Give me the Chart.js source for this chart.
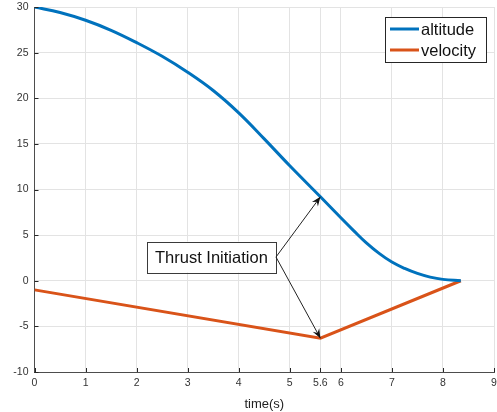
<!DOCTYPE html>
<html>
<head>
<meta charset="utf-8">
<script src="https://cdn.jsdelivr.net/npm/chart.js@4"></script>
<style>
  html, body { margin: 0; padding: 0; background: #fff; }
  .canvas { width: 497px; height: 412px; }
</style>
</head>
<body>
<div class="canvas"><canvas id="chart" width="497" height="412"></canvas></div>
<script>
// data
const altTime = [0, 0.5, 1, 1.5, 2, 2.5, 3, 3.5, 4, 4.5, 5, 5.6, 6, 6.25, 6.5, 6.75, 7, 7.25, 7.5, 7.75, 8, 8.35];
const altitude = [30, 29.4, 28.55, 27.45, 26.1, 24.6, 22.85, 20.85, 18.4, 15.55, 12.6, 9.2, 6.9, 5.5, 4.15, 3.0, 2.05, 1.35, 0.8, 0.4, 0.15, 0];
const velTime = [0, 5.6, 8.35];
const velocity = [-1, -6.3, 0];
const xTicks = [0, 1, 2, 3, 4, 5, 5.6, 6, 7, 8, 9];
const yTicks = [-10, -5, 0, 5, 10, 15, 20, 25, 30];

// annotation: box position in data units, arrows go to the thrust points
const noteText = "Thrust Initiation";
const noteBox = { x1: 2.2, x2: 4.73, y: 2.6 };
const noteTargets = [[5.6, 9.2], [5.6, -6.3]];

const FONT = "'Liberation Sans', Arial, Helvetica, sans-serif";

const toPoints = (xs, ys) => xs.map((x, i) => ({ x: x, y: ys[i] }));

// inward tick marks, matlab style
const tickPlugin = {
  id: "inwardTicks",
  afterDatasetsDraw(chart) {
    const { ctx, chartArea, scales } = chart;
    ctx.save();
    ctx.strokeStyle = "#262626";
    ctx.lineWidth = 1;
    ctx.beginPath();
    scales.x.ticks.forEach((t) => {
      const px = Math.round(scales.x.getPixelForValue(t.value)) + 0.5;
      ctx.moveTo(px, chartArea.bottom);
      ctx.lineTo(px, chartArea.bottom - 4);
    });
    scales.y.ticks.forEach((t) => {
      const py = Math.round(scales.y.getPixelForValue(t.value)) + 0.5;
      ctx.moveTo(chartArea.left, py);
      ctx.lineTo(chartArea.left + 4, py);
    });
    ctx.stroke();
    ctx.restore();
  },
};

// text box + arrows
const notePlugin = {
  id: "note",
  afterDatasetsDraw(chart) {
    const { ctx, scales } = chart;
    const x1 = scales.x.getPixelForValue(noteBox.x1);
    const x2 = scales.x.getPixelForValue(noteBox.x2);
    const cy = scales.y.getPixelForValue(noteBox.y);
    const h = 31;
    ctx.save();
    ctx.fillStyle = "#fff";
    ctx.fillRect(x1, cy - h / 2, x2 - x1, h);
    ctx.strokeStyle = "#3a3a3a";
    ctx.lineWidth = 1;
    ctx.strokeRect(Math.round(x1) + 0.5, Math.round(cy - h / 2) + 0.5, Math.round(x2 - x1), h);
    ctx.fillStyle = "#111";
    ctx.font = "16.5px " + FONT;
    ctx.textAlign = "center";
    ctx.textBaseline = "middle";
    ctx.fillText(noteText, (x1 + x2) / 2, cy + 1);

    noteTargets.forEach(([tx, ty]) => {
      const px = scales.x.getPixelForValue(tx);
      const py = scales.y.getPixelForValue(ty);
      ctx.strokeStyle = "#222";
      ctx.lineWidth = 1;
      ctx.beginPath();
      ctx.moveTo(x2, cy);
      ctx.lineTo(px, py);
      ctx.stroke();
      const ang = Math.atan2(py - cy, px - x2);
      const len = 10, wid = 0.38;
      ctx.fillStyle = "#111";
      ctx.beginPath();
      ctx.moveTo(px, py);
      ctx.lineTo(px - len * Math.cos(ang - wid), py - len * Math.sin(ang - wid));
      ctx.lineTo(px - len * 0.6 * Math.cos(ang), py - len * 0.6 * Math.sin(ang));
      ctx.lineTo(px - len * Math.cos(ang + wid), py - len * Math.sin(ang + wid));
      ctx.closePath();
      ctx.fill();
    });
    ctx.restore();
  },
};

// legend inside the top right corner
const legendPlugin = {
  id: "boxLegend",
  afterDraw(chart) {
    const { ctx } = chart;
    const left = 385, top = 17, w = 101, h = 45;
    ctx.save();
    ctx.fillStyle = "#fff";
    ctx.fillRect(left, top, w, h);
    ctx.strokeStyle = "#262626";
    ctx.lineWidth = 1;
    ctx.strokeRect(left + 0.5, top + 0.5, w, h);
    ctx.font = "16.5px " + FONT;
    ctx.textBaseline = "middle";
    chart.data.datasets.forEach((ds, i) => {
      const y = top + 12 + i * 21;
      ctx.strokeStyle = ds.borderColor;
      ctx.lineWidth = 3;
      ctx.beginPath();
      ctx.moveTo(left + 5, y);
      ctx.lineTo(left + 34, y);
      ctx.stroke();
      ctx.fillStyle = "#111";
      ctx.fillText(ds.label, left + 36, y + 1);
    });
    ctx.restore();
  },
};

const data = {
  datasets: [
    {
      label: "altitude",
      data: toPoints(altTime, altitude),
      borderColor: "#0072BD",
      backgroundColor: "#0072BD",
      borderWidth: 3,
      pointRadius: 0,
      showLine: true,
      tension: 0.4,
    },
    {
      label: "velocity",
      data: toPoints(velTime, velocity),
      borderColor: "#D95319",
      backgroundColor: "#D95319",
      borderWidth: 3,
      pointRadius: 0,
      showLine: true,
      tension: 0,
    },
  ],
};

const config = {
  type: "scatter",
  data: data,
  options: {
    responsive: false,
    animation: false,
    layout: { padding: { top: 7, right: 3, left: 0, bottom: 0 } },
    plugins: {
      legend: { display: false },
      tooltip: { enabled: false },
    },
    scales: {
      x: {
        type: "linear",
        min: 0,
        max: 9,
        afterBuildTicks: (scale) => {
          scale.ticks = xTicks.map((v) => ({ value: v }));
        },
        afterFit: (scale) => {
          scale.height = 40;
          scale.paddingLeft = 0;
          scale.paddingRight = 0;
        },
        grid: { color: "#e3e3e3", tickLength: 0, drawTicks: false },
        border: { color: "#4d4d4d", width: 1 },
        ticks: {
          color: "#333",
          font: { family: FONT, size: 10.5 },
          padding: 5,
          maxRotation: 0,
          autoSkip: false,
        },
        title: {
          display: true,
          text: "time(s)",
          color: "#222",
          font: { family: FONT, size: 13 },
          padding: { top: 2, bottom: 0 },
        },
      },
      y: {
        min: -10,
        max: 30,
        afterBuildTicks: (scale) => {
          scale.ticks = yTicks.map((v) => ({ value: v }));
        },
        afterFit: (scale) => {
          scale.width = 34.5;
          scale.paddingTop = 0;
          scale.paddingBottom = 0;
        },
        grid: { color: "#e3e3e3", tickLength: 0, drawTicks: false },
        border: { color: "#4d4d4d", width: 1 },
        ticks: {
          color: "#333",
          font: { family: FONT, size: 10.5 },
          padding: 6,
        },
      },
    },
  },
  plugins: [tickPlugin, notePlugin, legendPlugin],
};

const myChart = new Chart(document.getElementById("chart"), config);
</script>
</body>
</html>
